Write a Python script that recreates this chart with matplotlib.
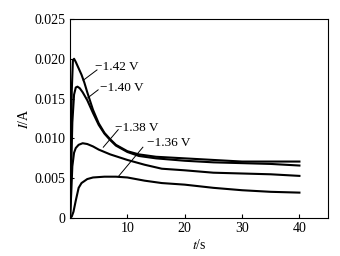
import matplotlib
matplotlib.use("Agg")
import matplotlib.pyplot as plt

# current transients at four potentials
t_142 = [0, 0.15, 0.3, 0.5, 0.7, 1.0, 1.5, 2, 2.5, 3, 4, 5, 6, 7, 8, 10, 12, 15, 20, 25, 30, 35, 40]
i_142 = [0, 0.008, 0.016, 0.0198, 0.0200, 0.0196, 0.0188, 0.0180, 0.0170, 0.0158, 0.0136, 0.0119,
         0.0107, 0.0099, 0.0092, 0.0084, 0.0080, 0.0077, 0.0075, 0.0073, 0.0071, 0.0071, 0.0071]

t_140 = [0, 0.2, 0.4, 0.7, 1.0, 1.3, 1.7, 2.2, 3, 4, 5, 6, 7, 8, 10, 12, 15, 20, 25, 30, 35, 40]
i_140 = [0, 0.006, 0.012, 0.0155, 0.0164, 0.0165, 0.0163, 0.0158, 0.0148, 0.0132, 0.0117, 0.0106,
         0.0098, 0.0091, 0.0083, 0.0078, 0.0075, 0.0072, 0.0070, 0.0069, 0.0068, 0.0066]

t_138 = [0, 0.2, 0.4, 0.7, 1.0, 1.5, 2.2, 3, 4, 5, 7, 10, 13, 16, 20, 25, 30, 35, 40]
i_138 = [0, 0.003, 0.0065, 0.0082, 0.0088, 0.0092, 0.0094, 0.0093, 0.0090, 0.0086, 0.0080, 0.0073,
         0.0067, 0.0062, 0.0060, 0.0057, 0.0056, 0.0055, 0.0053]

t_136 = [0, 0.3, 0.6, 1.0, 1.5, 2, 3, 4, 6, 8, 10, 13, 16, 20, 25, 30, 35, 40]
i_136 = [0, 0.0002, 0.0008, 0.0022, 0.0038, 0.0044, 0.0049, 0.0051, 0.0052, 0.0052, 0.0051, 0.0047,
         0.0044, 0.0042, 0.0038, 0.0035, 0.0033, 0.0032]

# label text, text anchor (t, I), leader line from -> to
labels = ["\u22121.42 V", "\u22121.40 V", "\u22121.38 V", "\u22121.36 V"]
label_pos = [(4.4, 0.0190), (5.2, 0.0163), (7.9, 0.0113), (13.4, 0.0094)]
leaders = [((4.7, 0.0186), (2.3, 0.0173)),
           ((4.9, 0.0161), (3.1, 0.0151)),
           ((8.4, 0.0111), (5.8, 0.0089)),
           ((12.7, 0.0089), (8.4, 0.0052))]

plt.rcParams["font.family"] = ["Liberation Serif", "DejaVu Serif"]
plt.rcParams["mathtext.fontset"] = "stix"

fig = plt.figure(figsize=(3.4, 2.56), dpi=100)
ax = fig.add_axes([0.206, 0.148, 0.759, 0.778])

for t, i in [(t_142, i_142), (t_140, i_140), (t_138, i_138), (t_136, i_136)]:
    ax.plot(t, i, color="black", lw=1.5)

for txt, (x, y), (p0, p1) in zip(labels, label_pos, leaders):
    ax.text(x, y, txt, fontsize=9.5, ha="left", va="center")
    ax.plot([p0[0], p1[0]], [p0[1], p1[1]], color="black", lw=0.7)

ax.set_xlim(0, 45)
ax.set_ylim(0, 0.025)
ax.set_xticks([10, 20, 30, 40])
ax.set_yticks([0, 0.005, 0.010, 0.015, 0.020, 0.025])
ax.set_yticklabels(["0", "0.005", "0.010", "0.015", "0.020", "0.025"])
ax.tick_params(direction="in", length=3, width=0.8, labelsize=10, pad=3)
for s in ax.spines.values():
    s.set_linewidth(0.8)

ax.set_xlabel("$t$/s", fontsize=10, labelpad=2)
ax.set_ylabel("$I$/A", fontsize=10, labelpad=3)

fig.savefig("out.png", dpi=100)
